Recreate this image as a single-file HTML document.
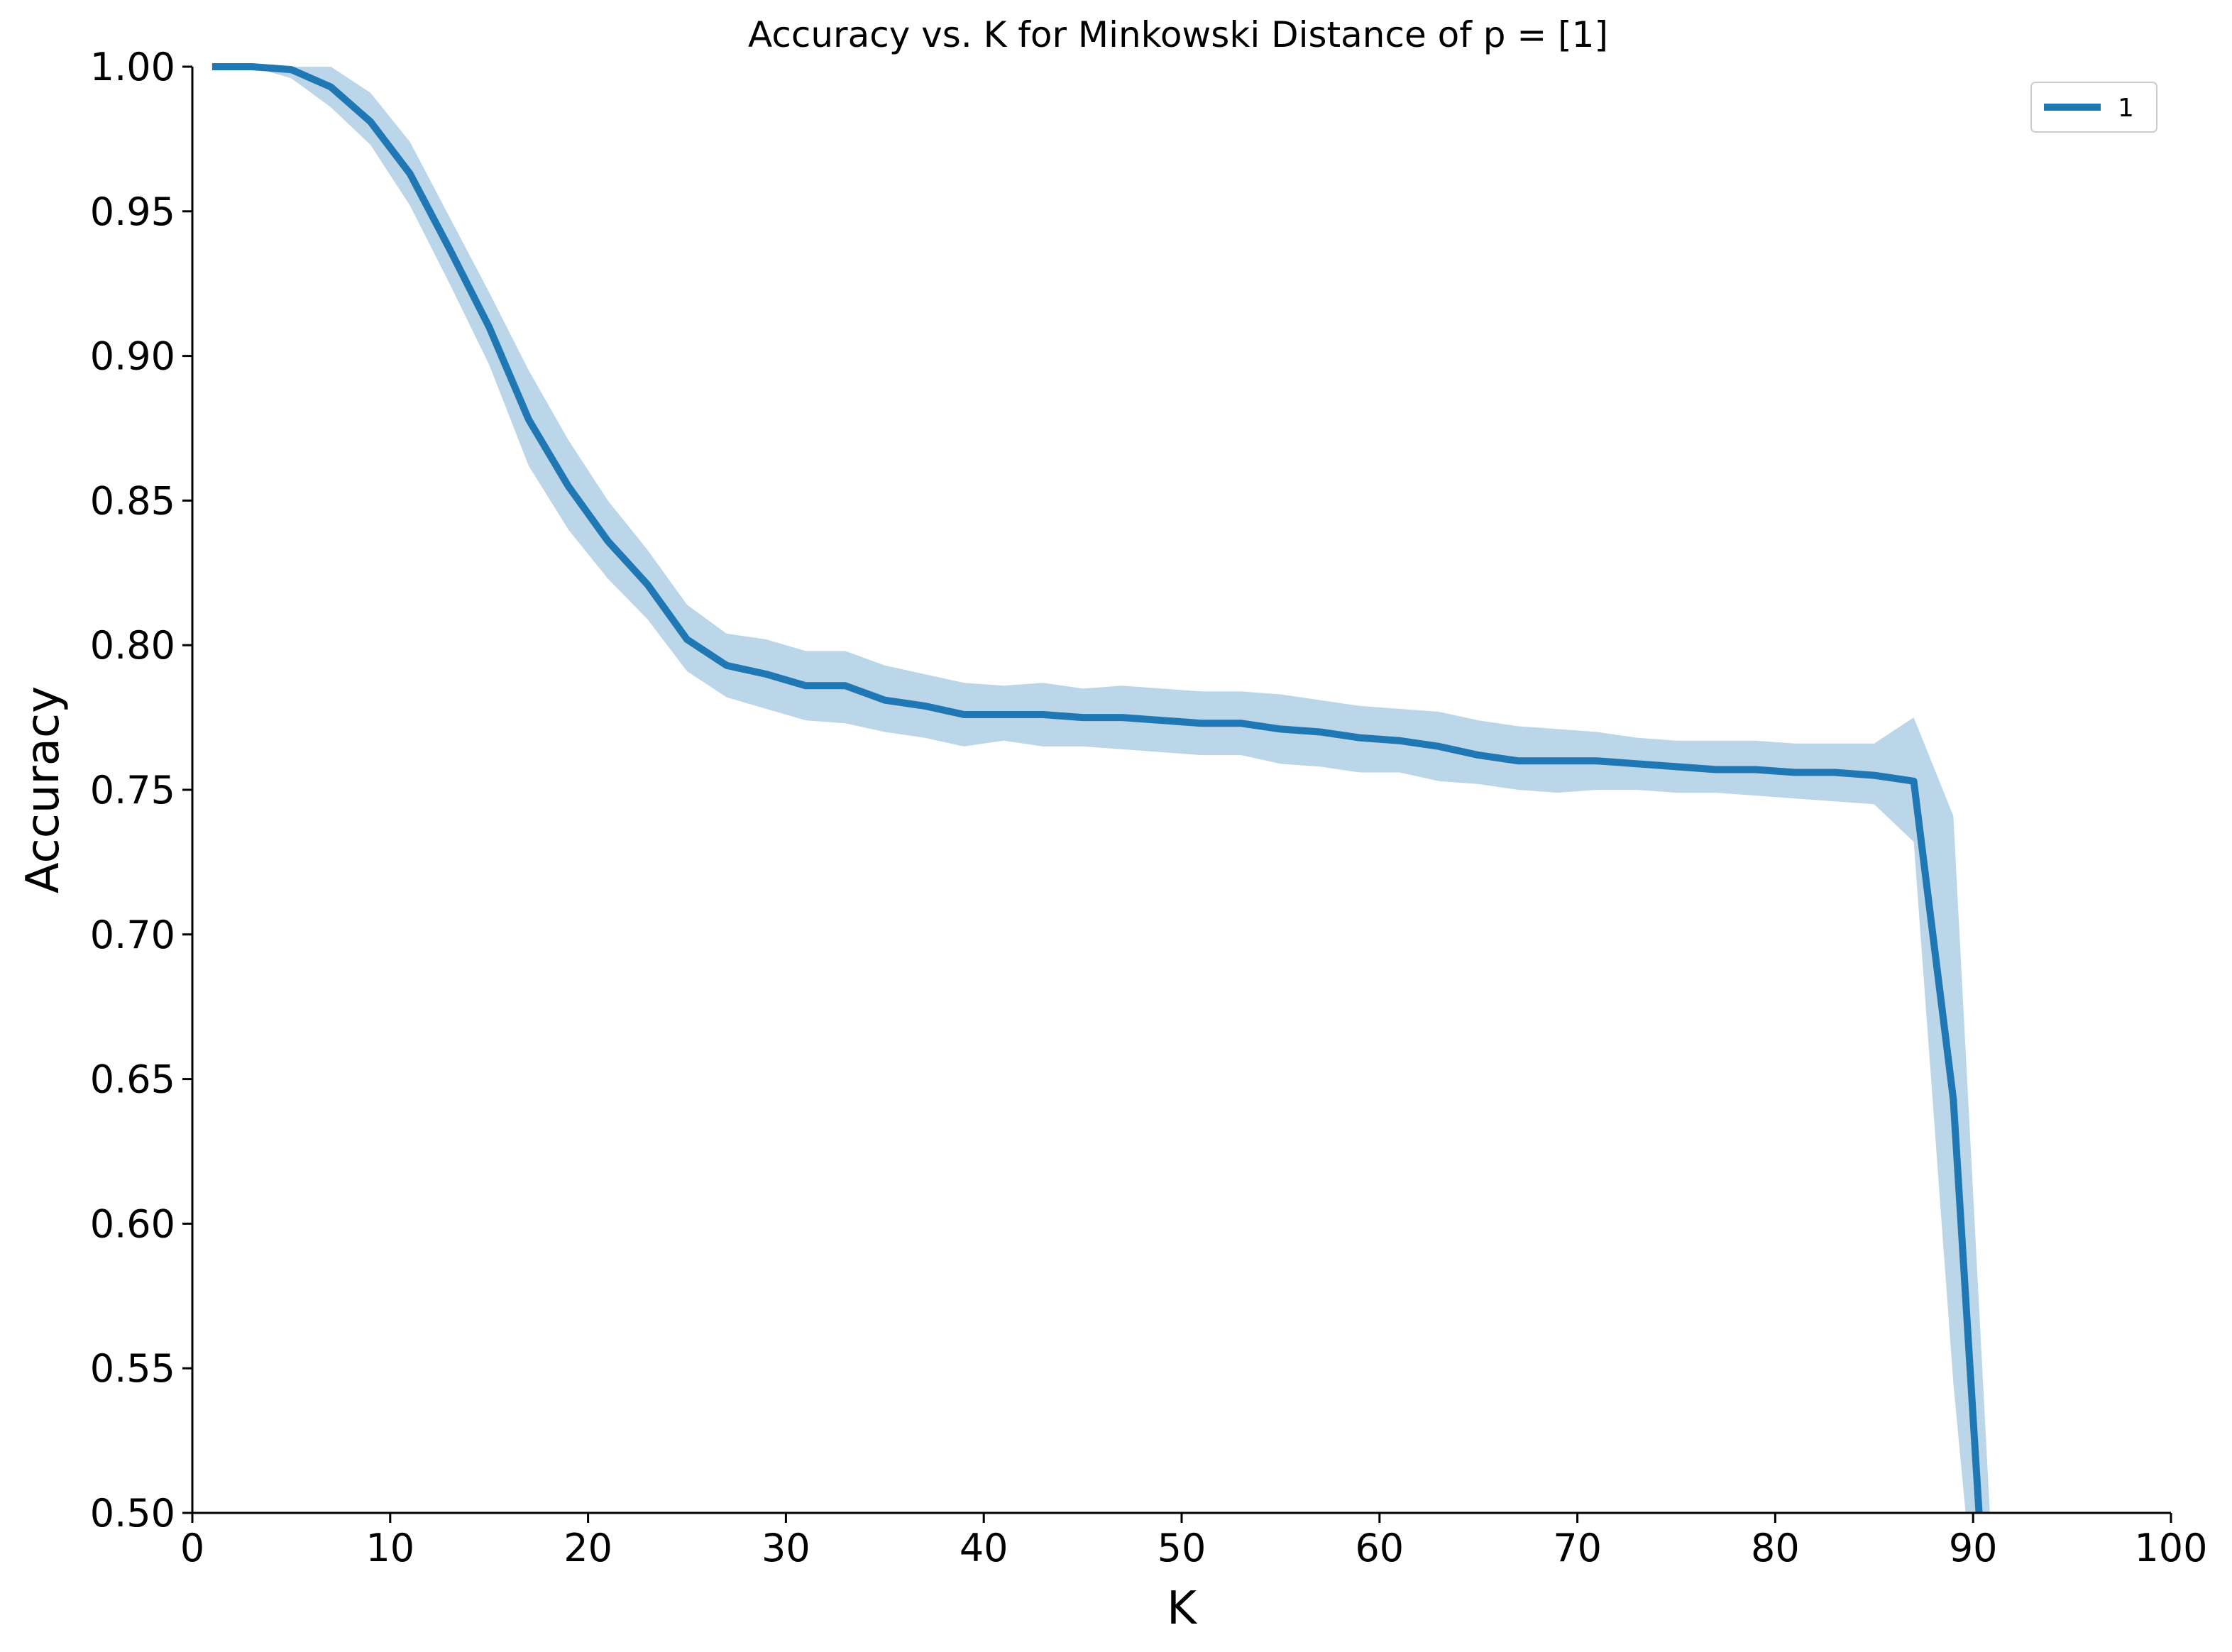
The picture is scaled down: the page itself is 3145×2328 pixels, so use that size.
<!DOCTYPE html>
<html><head><meta charset="utf-8"><style>
html,body{margin:0;padding:0;background:#fff;width:3145px;height:2328px;overflow:hidden}
svg{display:block}
text{font-family:"DejaVu Sans","Liberation Sans",sans-serif}
</style></head><body>
<svg id="chart" width="3145" height="2328" xmlns="http://www.w3.org/2000/svg">
<defs><clipPath id="clip"><rect x="271" y="60" width="2788" height="2072"/></clipPath></defs>
<text x="1660" y="66" font-size="50" text-anchor="middle">Accuracy vs. K for Minkowski Distance of p = [1]</text>
<g id="plot" clip-path="url(#clip)"></g>
<g id="axes"></g>
<text x="1665" y="2288" font-size="64" text-anchor="middle">K</text>
<text transform="translate(82,1113) rotate(-90)" font-size="64" text-anchor="middle">Accuracy</text>
<g>
<rect x="2862" y="116" width="177" height="70" rx="6" fill="#fff" stroke="#ccc" stroke-width="2"/>
<line x1="2880" y1="151" x2="2960" y2="151" stroke="#1f77b4" stroke-width="10"/>
<text x="2984" y="164" font-size="36">1</text>
</g>
</svg>
<script>
const kValues=[1,3,5,7,9,11,13,15,17,19,21,23,25,27,29,31,33,35,37,39,41,43,45,47,49,51,53,55,57,59,61,63,65,67,69,71,73,75,77,79,81,83,85,87,89,91];
const meanAcc=[1,1,0.999,0.993,0.981,0.963,0.937,0.910,0.878,0.855,0.836,0.821,0.802,0.793,0.790,0.786,0.786,0.781,0.779,0.776,0.776,0.776,0.775,0.775,0.774,0.773,0.773,0.771,0.770,0.768,0.767,0.765,0.762,0.760,0.760,0.760,0.759,0.758,0.757,0.757,0.756,0.756,0.755,0.753,0.643,0.423];
const upperAcc=[1,1,1,1,0.991,0.974,0.948,0.922,0.895,0.871,0.850,0.833,0.814,0.804,0.802,0.798,0.798,0.793,0.790,0.787,0.786,0.787,0.785,0.786,0.785,0.784,0.784,0.783,0.781,0.779,0.778,0.777,0.774,0.772,0.771,0.770,0.768,0.767,0.767,0.767,0.766,0.766,0.766,0.775,0.741,0.48];
const lowerAcc=[1,1,0.996,0.986,0.973,0.952,0.925,0.897,0.862,0.840,0.823,0.809,0.791,0.782,0.778,0.774,0.773,0.770,0.768,0.765,0.767,0.765,0.765,0.764,0.763,0.762,0.762,0.759,0.758,0.756,0.756,0.753,0.752,0.750,0.749,0.750,0.750,0.749,0.749,0.748,0.747,0.746,0.745,0.732,0.545,0.40];
const xTicks=[0,10,20,30,40,50,60,70,80,90,100];
const yTicks=[0.50,0.55,0.60,0.65,0.70,0.75,0.80,0.85,0.90,0.95,1.00];
const NS="http://www.w3.org/2000/svg";
const X0=271,X1=3059,Y0=2132,Y1=94;
const xs=v=>X0+(v-0)/(100-0)*(X1-X0);
const ys=v=>Y0-(v-0.5)/(1.0-0.5)*(Y0-Y1);
const plot=document.getElementById('plot'),axes=document.getElementById('axes');
function mk(t,a,p){const e=document.createElementNS(NS,t);for(const k in a)e.setAttribute(k,a[k]);p.appendChild(e);return e;}
let d='M'+kValues.map((k,i)=>xs(k)+','+ys(upperAcc[i])).join('L');
for(let i=kValues.length-1;i>=0;i--)d+='L'+xs(kValues[i])+','+ys(lowerAcc[i]);
const band=mk('path',{d:d+'Z',fill:'#1f77b4','fill-opacity':0.3},plot);


const line=mk('path',{d:'M'+kValues.map((k,i)=>xs(k)+','+ys(meanAcc[i])).join('L'),fill:'none',stroke:'#1f77b4','stroke-width':10,'stroke-linejoin':'round'},plot);


const xa=mk('line',{x1:X0,y1:Y0,x2:X1,y2:Y0,stroke:'#000','stroke-width':3},axes);


const ya=mk('line',{x1:X0,y1:Y0,x2:X0,y2:Y1,stroke:'#000','stroke-width':3},axes);


xTicks.forEach(t=>{const x=xs(t);mk('line',{x1:x,y1:Y0,x2:x,y2:Y0+14,stroke:'#000','stroke-width':3},axes);
const tx=mk('text',{x:x,y:Y0+68,'font-size':54,'text-anchor':'middle'},axes);tx.textContent=t;

});
yTicks.forEach(t=>{const y=ys(t);mk('line',{x1:X0-14,y1:y,x2:X0,y2:y,stroke:'#000','stroke-width':3},axes);
const tx=mk('text',{x:X0-24,y:y+19,'font-size':54,'text-anchor':'end'},axes);tx.textContent=t.toFixed(2);

});
</script>
</body></html>
